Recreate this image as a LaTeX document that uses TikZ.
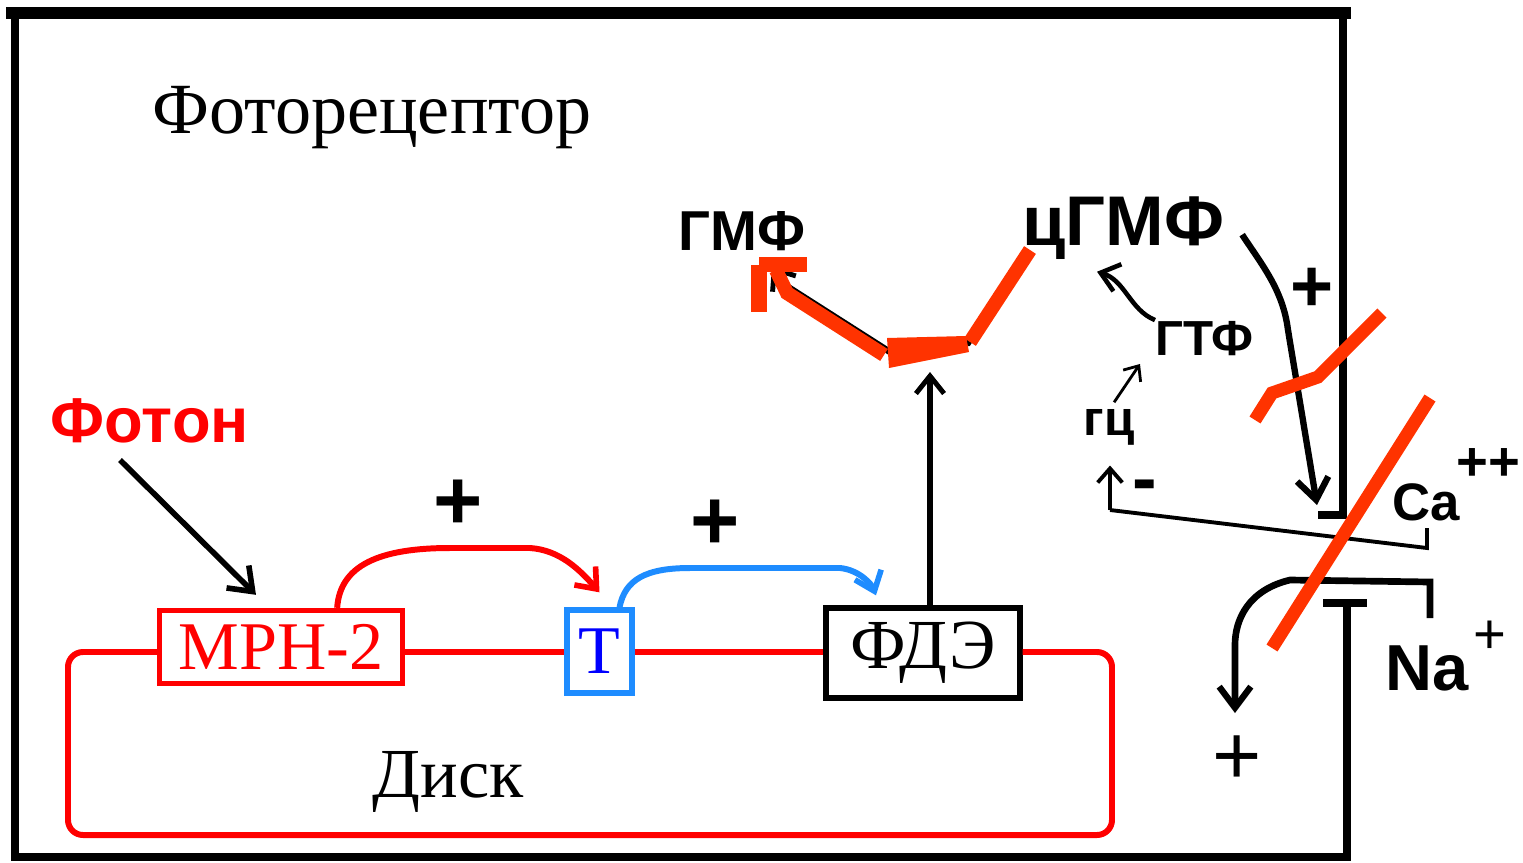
\documentclass[tikz,border=0pt]{standalone}
\usepackage{fontspec}
\setmainfont{Liberation Serif}
\newfontfamily\lsans{Liberation Sans}
\usetikzlibrary{arrows.meta}
\definecolor{myred}{HTML}{FF0000}
\definecolor{ovred}{HTML}{FF3300}
\definecolor{ltblue}{HTML}{1E8CFF}
\definecolor{dkblue}{HTML}{0000FF}
\tikzset{
  lbl/.style={inner sep=0pt, anchor=base west},
  bsans/.style={font=\lsans\bfseries\fontsize{#1}{#1}\selectfont},
  boxn/.style={draw=#1, line width=1.5pt, inner sep=0pt},
  frame/.style={line width=2.3pt, line cap=rect},
  disc/.style={draw=myred, line width=1.7pt},
  blk/.style={line width=1.4pt, -{Straight Barb[length=5pt,width=8pt,line width=1.4pt]}},
  thin/.style={line width=0.8pt, -{Straight Barb[length=3.5pt,width=6pt,line width=0.8pt]}},
  over/.style={draw=ovred, line width=3.7pt},
}
\begin{document}
\begin{tikzpicture}[x=0.01cm,y=-0.01cm]
\useasboundingbox (0,0) rectangle (1523,863);
% outer frame
\draw[frame, line width=3.4pt] (12,13) -- (1345,13);
\draw[frame] (15,13) -- (15,857) -- (1347,857) -- (1347,603);
\draw[frame] (1343,13) -- (1343,515) -- (1322,515);
\draw[frame] (1327,603) -- (1363,603);
% titles
\node[lbl, font=\fontsize{20.5pt}{22pt}\selectfont] (foto) at (152,133) {Фоторецептор};
\node[lbl, font=\fontsize{20pt}{22pt}\selectfont] (disk) at (372,797) {Диск};
% boxes
\node[boxn=myred, minimum width=2.43cm, minimum height=0.73cm, text=myred, font=\fontsize{19.4pt}{20pt}\selectfont] (mrn) at (281,647) {МРН-2};
\node[boxn=ltblue, minimum width=0.65cm, minimum height=0.83cm, text=dkblue, font=\fontsize{19.4pt}{20pt}\selectfont] (t) at (599.5,651.5) {Т};
\node[boxn=black, minimum width=1.94cm, minimum height=0.9cm, font=\fontsize{20pt}{22pt}\selectfont] (fde) at (923,653) {ФДЭ};
% disc outline
\coordinate (lv) at (0,652);
\draw[disc, rounded corners=0.15cm] (mrn.west |- lv) -- (68,652) -- (68,835) -- (1112,835) -- (1112,652) -- (fde.east |- lv);
\draw[disc] (mrn.east |- lv) -- (t.west |- lv);
\draw[disc] (t.east |- lv) -- (fde.west |- lv);
% photon
\node[lbl, bsans=18pt, text=myred] (foton) at (50,442) {Фотон};
\coordinate (fa) at (120,460);
\draw[line width=1.6pt, -{Straight Barb[length=6pt,width=9pt,line width=1.6pt]}] (fa) -- ([xshift=-0.25cm,yshift=0.13cm]mrn.north);
% activation arcs
\draw[draw=myred, line width=1.7pt, -{Straight Barb[length=5pt,width=8pt,line width=1.6pt]}] ([xshift=-0.68cm]mrn.north east) .. controls (340,565) and (380,548) .. (450,548) -- (530,548) .. controls (560,550) and (580,570) .. ([yshift=0.15cm]t.north);
\node[bsans=24pt] (p1) at (458,505) {+};
\draw[draw=ltblue, line width=1.7pt, -{Straight Barb[length=5pt,width=8pt,line width=1.6pt]}] ([xshift=0.2cm]t.north) .. controls (625,580) and (645,568) .. (690,568) -- (840,568) .. controls (860,570) and (872,585) .. ([xshift=-0.47cm,yshift=0.1cm]fde.north);
\node[bsans=24pt] (p2) at (715,525) {+};
% PDE arrow up
\coordinate (up) at (930,372);
\draw[blk, line width=1.6pt] ([xshift=0.07cm]fde.north) -- (up);
% cGMP, GMP
\node[lbl, bsans=16pt] (gmf) at (678,250) {ГМФ};
\node[lbl, bsans=20pt] (cgmf) at (1022,245) {цГМФ};
\draw[blk, line width=1.8pt] ([xshift=-0.1cm,yshift=-0.12cm]cgmf.south west) -- (968,343) -- (890,352) -- (785,285) -- ([xshift=0.3cm,yshift=-0.15cm]gmf.south);
% red overlay on hydrolysis arrow
\draw[over, line width=4pt] (1030,250) -- (970,342);
\fill[ovred] (887,338) -- (966,336) -- (969,352) -- (889,368) -- cycle;
\draw[over, line width=4pt] (884,355) -- (787,293) -- (776,270);
\fill[ovred] (751,265) rectangle (767,312);
\fill[ovred] (759,257) rectangle (807,272);
% guanylate cyclase
\node[lbl, bsans=14pt] (gtf) at (1155,355) {ГТФ};
\node[lbl, bsans=14pt] (gc) at (1083,435) {гц};
\draw[thin] ([xshift=0.05cm,yshift=0.06cm]gc.north) -- ([xshift=-0.15cm,yshift=-0.08cm]gtf.south west);
\draw[line width=1.3pt, -{Straight Barb[length=5pt,width=8pt,line width=1.3pt]}] ([yshift=0.18cm]gtf.west) .. controls (1130,310) and (1125,280) .. ([xshift=0.75cm,yshift=-0.12cm]cgmf.south west);
\draw[line width=1.8pt, -{Straight Barb[length=6pt,width=9pt,line width=1.8pt]}] ([xshift=0.17cm,yshift=-0.07cm]cgmf.east) .. controls (1262,265) and (1283,290) .. (1288,330) -- (1317,505);
\node[bsans=21pt] (p3) at (1312,290) {+};
% Ca channel bracket
\coordinate (cb) at (1110,510);
\coordinate (ce) at (1427,548);
\draw[line width=1.1pt, -{Straight Barb[length=4pt,width=7pt,line width=1.1pt]}] (cb) -- ([yshift=-0.2cm]gc.south -| cb);
\draw[line width=1.1pt] (cb) -- (ce) -- (1427,528);
\node[bsans=21pt] (minus) at (1145,492) {-};
\node[lbl, bsans=15pt] (ca) at (1392,520) {Ca};
\node[bsans=15.5pt] (capp) at (1488,465) {++};
% Na channel
\coordinate (na0) at (1430,618);
\coordinate (nad) at (1235,713);
\draw[line width=1.9pt, -{Straight Barb[length=6pt,width=9pt,line width=1.8pt]}] (na0) -- (1430,582) -- (1290,580) .. controls (1248,590) and (1235,620) .. (1235,645) -- (nad);
\node[lbl, bsans=18.5pt] (na) at (1385,690) {Na};
\node[font=\lsans\fontsize{16pt}{16pt}\selectfont] (nap) at (1490,637) {+};
\node[font=\lsans\fontsize{24pt}{24pt}\selectfont] (p4) at (1237,760) {+};
% red overlay in channel
\draw[over] (1255,420) -- (1272,393) -- (1318,377) -- (1382,313);
\draw[over] (1430,398) -- (1272,648);
\end{tikzpicture}
\end{document}
